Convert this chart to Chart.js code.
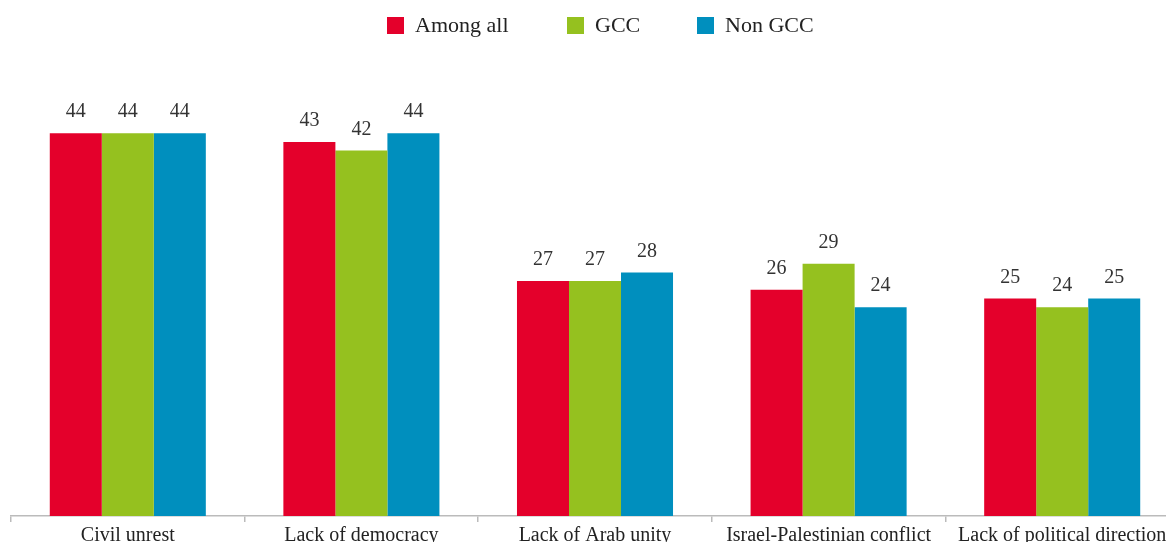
<!DOCTYPE html>
<html><head><meta charset="utf-8">
<script src="https://cdn.jsdelivr.net/npm/chart.js@4/dist/chart.umd.min.js"></script>
<style>
html,body{margin:0;padding:0;overflow:hidden;background:#fff;}
#wrap{width:1180px;height:552px;position:relative;}
</style></head><body>
<div id="wrap"><canvas id="c"></canvas></div>
<script>
const categories = ["Civil unrest","Lack of democracy","Lack of Arab unity","Israel-Palestinian conflict","Lack of political direction"];
const amongAll = [44,43,27,26,25];
const gcc = [44,42,27,29,24];
const nonGcc = [44,44,28,24,25];
const seriesNames = ["Among all","GCC","Non GCC"];
const colors = ["#E4002B","#95C11F","#008FBE"];

const valueLabels = {
  id:'valueLabels',
  afterDatasetsDraw(chart){
    const ctx = chart.ctx;
    ctx.save();
    ctx.font = '20px "Liberation Serif"';
    ctx.fillStyle = '#333';
    ctx.textAlign = 'center';
    ctx.textBaseline = 'middle';
    chart.data.datasets.forEach((ds,i)=>{
      chart.getDatasetMeta(i).data.forEach((bar,j)=>{
        ctx.fillText(String(ds.data[j]), bar.x, bar.y - 21);
      });
    });
    ctx.restore();
  }
};

const topLegend = {
  id:'topLegend',
  afterDraw(chart){
    const ctx = chart.ctx;
    const boxX = [387,567,697];
    ctx.save();
    ctx.font = '22px "Liberation Serif"';
    ctx.textBaseline = 'middle';
    ctx.textAlign = 'left';
    chart.data.datasets.forEach((ds,i)=>{
      ctx.fillStyle = ds.backgroundColor;
      ctx.fillRect(boxX[i],17,17,17);
      ctx.fillStyle = '#222';
      ctx.fillText(ds.label, boxX[i]+28, 26);
    });
    ctx.restore();
  }
};

new Chart(document.getElementById('c'),{
  type:'bar',
  data:{
    labels:categories,
    datasets:[amongAll,gcc,nonGcc].map((d,i)=>({label:seriesNames[i],data:d,backgroundColor:colors[i],borderWidth:0}))
  },
  options:{
    responsive:true,maintainAspectRatio:false,animation:false,
    layout:{padding:{left:11,right:1,top:81,bottom:0}},
    datasets:{bar:{barPercentage:1,categoryPercentage:0.668}},
    plugins:{
      tooltip:{enabled:false},
      legend:{display:false}
    },
    scales:{
      y:{display:false,min:0,max:50},
      x:{
        afterFit(s){s.height=36;},
        border:{display:true,color:'#bbb',width:1.5},
        grid:{display:true,offset:true,drawOnChartArea:false,tickLength:6,color:'#bbb',lineWidth:1.5},
        ticks:{padding:2,color:'#222',font:{family:'"Liberation Serif"',size:20},maxRotation:0,autoSkip:false}
      }
    }
  },
  plugins:[valueLabels,topLegend]
});
</script>
</body></html>
